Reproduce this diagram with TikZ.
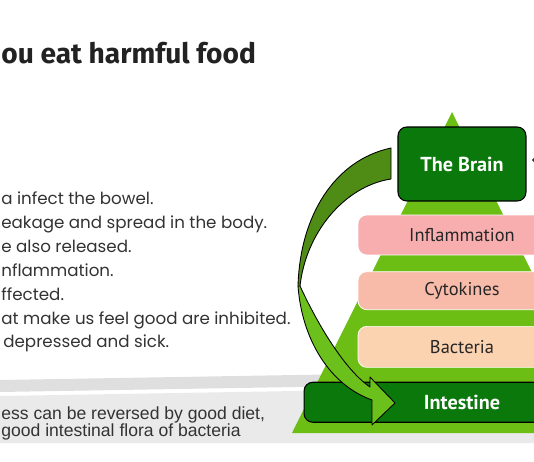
\documentclass[tikz,border=0pt]{standalone}
\usepackage{fontspec}
\setmainfont{Poppins}
\newfontfamily\headfont{Fira Sans}
\newfontfamily\boxfont{PT Sans}
\newfontfamily\notefont{Liberation Sans}
\usetikzlibrary{arrows.meta,positioning}
\definecolor{pyrgreen}{HTML}{6CBE14}
\definecolor{boxgreen}{HTML}{0A780A}
\definecolor{ribbonback}{HTML}{4E8C16}
\definecolor{ribbonfront}{HTML}{6CC01C}
\definecolor{inflpink}{HTML}{F8AEAE}
\definecolor{cytosalmon}{HTML}{F9BBA9}
\definecolor{bactpeach}{HTML}{FBD3B0}
\definecolor{bandgray}{HTML}{EAEAEA}
\definecolor{stripgray}{HTML}{DFDFDF}
\definecolor{textgray}{HTML}{333333}
\definecolor{titlegray}{HTML}{222222}

\begin{document}
\begin{tikzpicture}[x=0.02cm, y=-0.02cm,
  title/.style={anchor=base west, inner sep=0, text=titlegray, font=\headfont\bfseries\fontsize{16}{19}\selectfont},
  bullet/.style={anchor=base west, inner sep=0, text=textgray, font=\fontsize{9.5}{12}\selectfont},
  note/.style={anchor=base west, inner sep=0, text=textgray, font=\notefont\fontsize{10}{12}\selectfont},
  layer/.style={rounded corners=5pt, draw=white, line width=0.4pt, text=black!85, minimum width=4.16cm, font=\boxfont\fontsize{10.5}{13}\selectfont},
  organ/.style={rounded corners=5pt, draw=black, line width=0.6pt, fill=boxgreen, text=white, font=\boxfont\bfseries\fontsize{11.5}{14}\selectfont},
  ribbon/.style={draw=black, line width=0.5pt, line join=round}
]
\useasboundingbox (0,0) rectangle (534,462);
\clip (0,0) rectangle (534,462);
% grey band
\fill[stripgray] (0,380) -- (534,371) -- (534,383) -- (0,392) -- cycle;
\fill[bandgray] (0,396) -- (534,387) -- (534,443) -- (0,443) -- cycle;
% pyramid
\fill[pyrgreen] (452,112) -- (612,433) -- (292,433) -- cycle;
% back of the curved arrow
\fill[ribbonback] (298,286) .. controls (300,215) and (335,160) .. (391,148)
  -- (391,179) .. controls (345,186) and (306,232) .. (300,286) -- cycle;
\draw[ribbon] (298,286) .. controls (300,215) and (335,160) .. (391,148)
  -- (391,179) .. controls (345,186) and (306,232) .. (300,286);
% levels
\node[organ, minimum width=2.56cm, minimum height=1.48cm] (brain) at (462,164) {The Brain};
\node[layer, fill=inflpink, minimum height=0.8cm] (inflam) at (462,235) {Inflammation};
\node[layer, fill=cytosalmon, minimum height=0.76cm, below=0.32cm of inflam] (cyto) {Cytokines};
\node[layer, fill=bactpeach, minimum height=0.82cm, below=0.32cm of cyto] (bact) {Bacteria};
\node[organ, minimum width=6.32cm, minimum height=0.8cm, below=0.28cm of bact] (intest) {Intestine};
% front of the curved arrow
\filldraw[ribbon, fill=ribbonfront] (298,286) .. controls (302,340) and (330,385) .. (372,400)
  -- (372,425) -- (395,403) -- (370,377) -- (370,387)
  .. controls (345,370) and (318,325) .. (300,286) -- cycle;
% feed from the right
\coordinate (feed) at (570,160);
\draw[textgray, line width=0.6pt, -{Straight Barb[length=3pt]}] (feed) -- ([xshift=3pt]brain.east |- 0,160);
% text
\node[title] (head) at (1,64) {ou eat harmful food};
\node[bullet] (l1) at (1,205) {a infect the bowel.};
\node[bullet] (l2) at (1,229) {eakage and spread in the body.};
\node[bullet] (l3) at (1,253) {e also released.};
\node[bullet] (l4) at (1,277) {nflammation.};
\node[bullet] (l5) at (1,301) {ffected.};
\node[bullet] (l6) at (1,325) {at make us feel good are inhibited.};
\node[bullet] (l7) at (3,348) {depressed and sick.};
\node[note] (n1) at (1,419) {ess can be reversed by good diet,};
\node[note] (n2) at (1,436) {good intestinal flora of bacteria};
\end{tikzpicture}
\end{document}
